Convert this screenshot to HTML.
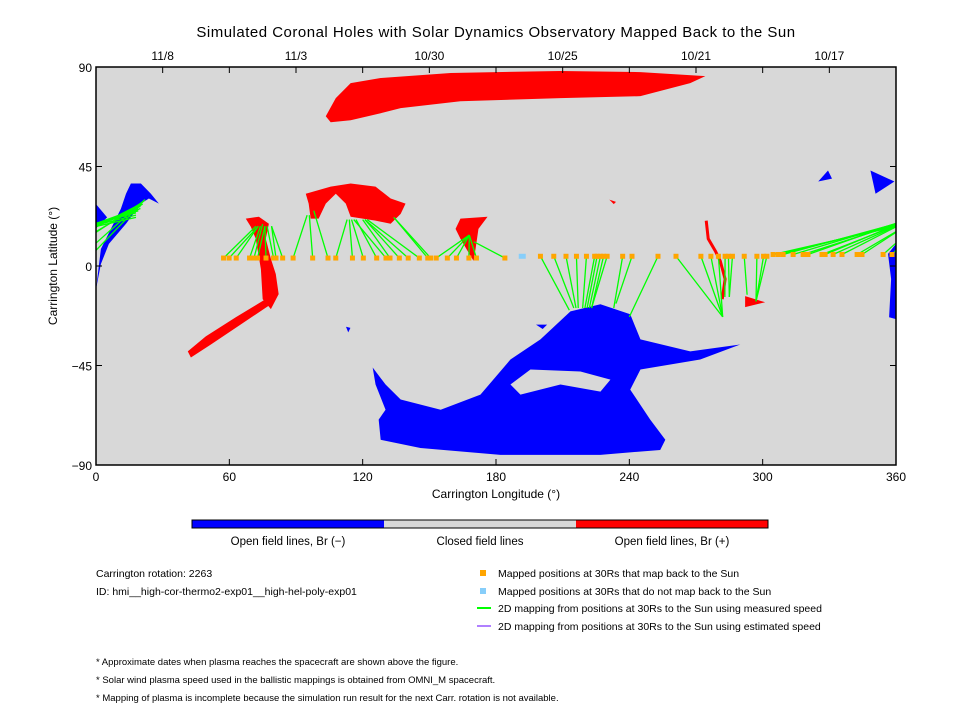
<!DOCTYPE html>
<html><head><meta charset="utf-8"><style>
body{margin:0;background:#fff;font-family:"Liberation Sans",sans-serif;}
svg text{font-family:"Liberation Sans",sans-serif;fill:#000;}
</style></head><body>
<svg id="chart" width="960" height="720" viewBox="0 0 960 720" xmlns="http://www.w3.org/2000/svg">
<rect width="960" height="720" fill="#fff"/>
<text x="496" y="37" text-anchor="middle" font-size="15" letter-spacing="0.5">Simulated Coronal Holes with Solar Dynamics Observatory Mapped Back to the Sun</text>
<defs><clipPath id="pc"><rect x="96" y="67" width="800" height="398"/></clipPath></defs>
<rect x="96" y="67" width="800" height="398" fill="#d8d8d8"/>
<g id="shapes" clip-path="url(#pc)"></g>
<g id="maps" clip-path="url(#pc)"></g>
<rect x="96" y="67" width="800" height="398" fill="none" stroke="#000" stroke-width="1.5"/>
<g id="axes"></g>
<text x="496" y="498" text-anchor="middle" font-size="12">Carrington Longitude (°)</text>
<text transform="translate(57,266) rotate(-90)" text-anchor="middle" font-size="12">Carrington Latitude (°)</text>
<g>
<rect x="192" y="520" width="192" height="8" fill="#0000ff"/>
<rect x="384" y="520" width="192" height="8" fill="#d8d8d8"/>
<rect x="576" y="520" width="192" height="8" fill="#ff0000"/>
<rect x="192" y="520" width="576" height="8" fill="none" stroke="#000" stroke-width="1"/>
</g>
<text x="288" y="545" text-anchor="middle" font-size="11.5">Open field lines, Br (−)</text>
<text x="480" y="545" text-anchor="middle" font-size="11.5">Closed field lines</text>
<text x="672" y="545" text-anchor="middle" font-size="11.5">Open field lines, Br (+)</text>
<text x="96" y="577" font-size="10.5">Carrington rotation: 2263</text>
<text x="96" y="595" font-size="10.5">ID: hmi__high-cor-thermo2-exp01__high-hel-poly-exp01</text>
<g font-size="10.5">
<rect x="480" y="570" width="6" height="6" fill="#ffa500"/><text x="498" y="577">Mapped positions at 30Rs that map back to the Sun</text>
<rect x="480" y="588" width="6" height="6" fill="#87cefa"/><text x="498" y="595">Mapped positions at 30Rs that do not map back to the Sun</text>
<line x1="477" y1="608" x2="491" y2="608" stroke="#00ff00" stroke-width="2"/><text x="498" y="612">2D mapping from positions at 30Rs to the Sun using measured speed</text>
<line x1="477" y1="626" x2="491" y2="626" stroke="#b080ff" stroke-width="2"/><text x="498" y="630">2D mapping from positions at 30Rs to the Sun using estimated speed</text>
</g>
<g font-size="9.5">
<text x="96" y="665">* Approximate dates when plasma reaches the spacecraft are shown above the figure.</text>
<text x="96" y="683">* Solar wind plasma speed used in the ballistic mappings is obtained from OMNI_M spacecraft.</text>
<text x="96" y="701">* Mapping of plasma is incomplete because the simulation run result for the next Carr. rotation is not available.</text>
</g>
</svg>
<script>
const xTicks=[0,60,120,180,240,300,360];
const yTicks=[-90,-45,0,45,90];
const dateLabels=["11/8","11/3","10/30","10/25","10/21","10/17"];
const dateLons=[30,90,150,210,270,330];
const dotLon=[57.4,59.9,63.1,69.1,71.1,72.7,76.5,79.9,81,84,88.7,97.5,104.4,107.9,115.4,120.3,126.3,130.5,132.3,136.5,140.5,145.5,149.3,150.6,153.1,158.1,162.2,167.8,171.2,184,200,206,211.5,216.2,220.7,224.4,225.5,227,228.4,230,237,241.2,252.9,261,272.2,276.7,280.1,283.1,284.6,286.4,291.7,297.4,300.4,301.9,304.7,307,309.2,313.7,318.2,320.4,326.7,328.1,331.7,335.7,342.5,344.7,354.2,358.2];
const dotLat=[3.6,3.6,3.6,3.6,3.6,3.6,3.6,3.6,3.6,3.6,3.6,3.6,3.6,3.6,3.6,3.6,3.6,3.6,3.6,3.6,3.6,3.6,3.6,3.6,3.6,3.6,3.6,3.6,3.6,3.6,4.4,4.4,4.4,4.4,4.4,4.4,4.4,4.4,4.4,4.4,4.4,4.4,4.4,4.4,4.4,4.4,4.4,4.4,4.4,4.4,4.4,4.4,4.4,4.4,5.2,5.2,5.2,5.2,5.2,5.2,5.2,5.2,5.2,5.2,5.2,5.2,5.2,5.2];
const footLon=[72,73,73,74,75,76,76,77,79,79,95,96,98,113,114,115,117,116,120,121,121,122,134,134,168,168,168,168,168,170,213,215,216,217,219,220,221,222,223,223,233,234,240,282,282,282,282,283,285,285,293,297,297,297,378,378,378,379,379,379,380,380,380,380,381,381,382,382];
const footLat=[18,18,18,18,19,18,18,18,18,18,23,23,25,21,21,21,21,21,21,21,21,21,22,22,14,14,14,14,14,11,-20,-19,-19,-19,-19,-19,-19,-19,-19,-19,-19,-17,-23,-23,-23,-23,-23,-14,-14,-14,-13,-16,-16,-16,22,23,24,25,25,26,26,27,27,28,28,29,30,30];
const blueLon=[191.8];
const blueLat=[4.4];
const shapes=[
{c:"#ff0000",p:[[103.4,67.7],[107.9,75.9],[114.6,82.7],[128.1,85],[159.6,87.3],[209,88.2],[245,87.7],[274.2,85.9],[267.4,82.7],[245,76.8],[209,75.9],[164,74.5],[137.1,71.4],[128.1,69.1],[114.6,65.9],[105.6,65]]},
{c:"#0000ff",p:[[124.5,-45.9],[130.3,-53.6],[137.1,-60.4],[155.1,-65],[173,-58.2],[186.5,-42.3],[200,-33.2],[213.5,-20.5],[227,-17.3],[240.4,-21.8],[245,-33.2],[267.4,-38.6],[289.9,-35.5],[271.9,-42.3],[245,-46.8],[240.4,-55.9],[249.4,-69.5],[256.2,-78.6],[253.9,-83.2],[227,-85.4],[182,-85.4],[146,-82.3],[128.1,-78.6],[127.2,-69.5],[130.3,-65],[125.8,-53.6]]},
{c:"#d8d8d8",p:[[186.5,-53.6],[195.5,-46.8],[218,-47.7],[231.5,-51.4],[227,-56.8],[209,-53.6],[191,-58.2]]},
{c:"#0000ff",p:[[0,-10.5],[2.2,7.7],[6.7,16.8],[11.2,25.9],[13.5,32.7],[15.7,37.3],[20.2,37.3],[24.7,32.7],[28.3,28.2],[23.8,30.5],[20.2,28.2],[13.5,19.1],[5.8,10],[2.2,0.9]]},
{c:"#0000ff",p:[[0,28],[5,22],[0,17]]},
{c:"#0000ff",p:[[356.4,5.5],[360,10],[360,-24],[356.9,-23.2],[357.8,-5.9]]},
{c:"#0000ff",p:[[348.5,43.2],[350.8,32.7],[359.3,38.2]]},
{c:"#0000ff",p:[[325,38.2],[329.4,43.2],[331.2,39.5]]},
{c:"#0000ff",p:[[112.5,-27.5],[114.5,-28],[113.5,-30]]},
{c:"#0000ff",p:[[198,-26.5],[203,-26.5],[201,-28.5]]},
{c:"#ff0000",p:[[67.4,21.4],[73.3,22.3],[77.8,19.1],[76.4,12.3],[78.7,3.2],[80.9,-3.6],[82.2,-12.7],[78.7,-19.5],[75,-15],[74.2,-1.4],[71.9,12.3],[69.7,17.7]]},
{c:"#ff0000",p:[[77.8,-14.1],[78.7,-17.3],[65.2,-26.4],[51.7,-35.5],[42.7,-41.4],[41.3,-38.6],[49.4,-31.8],[62.9,-23.2]]},
{c:"#ff0000",p:[[94.4,32.7],[105.6,35.9],[114.6,37.3],[125.8,35.9],[132.6,30.5],[139.3,28.2],[137.1,23.6],[132.6,19.1],[125.8,20.5],[114.6,22.3],[112.4,28.2],[107.9,32.7],[103.4,28.2],[100.2,21.4],[96.6,21.4],[95.7,28.2]]},
{c:"#ff0000",p:[[164,21.4],[176.2,22.3],[172.1,16.8],[170.8,7.7],[169.9,2.3],[166.7,7.7],[164,12.3],[161.8,16.8]]},
{c:"#ff0000",p:[[292.1,-13.6],[301.1,-16.4],[292.1,-18.6]]},
{c:"#ff0000",p:[[231,30],[234,29],[233,28]]}
];
const redStrip=[[274.6,20.5],[275.5,12.3],[278.7,6.8],[280.9,2.3],[283.1,-5.9],[281.8,-15]];
const L=96,R=896,T=67,B=465;
const xs=v=>L+(v/360)*(R-L);
const ys=v=>T+((90-v)/180)*(B-T);
const NS="http://www.w3.org/2000/svg";
function mk(tag,attrs,parent){const e=document.createElementNS(NS,tag);for(const k in attrs)e.setAttribute(k,attrs[k]);parent.appendChild(e);return e;}
const sg=document.getElementById('shapes'),mg=document.getElementById('maps'),ag=document.getElementById('axes');
shapes.forEach(s=>{
 const e=mk('polygon',{points:s.p.map(q=>xs(q[0])+','+ys(q[1])).join(' '),fill:s.c},sg);
 
 
});
const st=mk('polyline',{points:redStrip.map(q=>xs(q[0])+','+ys(q[1])).join(' '),fill:'none',stroke:'#ff0000','stroke-width':3},sg);


dotLon.forEach((lon,i)=>{
 [0,-360].forEach(off=>{
  const ln=mk('line',{x1:xs(lon+off),y1:ys(dotLat[i]),x2:xs(footLon[i]+off),y2:ys(footLat[i]),stroke:'#00ff00','stroke-width':1.3},mg);
  
  
 });
});
dotLon.forEach((lon,i)=>{
 const d=mk('rect',{x:xs(lon)-2.5,y:ys(dotLat[i])-2.5,width:5,height:5,fill:'#ffa500'},mg);
 
 
});
blueLon.forEach((lon,i)=>{
 const d=mk('rect',{x:xs(lon)-3.5,y:ys(blueLat[i])-2.5,width:7,height:5,fill:'#87cefa'},mg);
 
 
});
xTicks.forEach(v=>{
 const x=xs(v);
 mk('line',{x1:x,y1:B,x2:x,y2:B-6,stroke:'#000'},ag);
 const t=mk('text',{x:x,y:B+16,'text-anchor':'middle','font-size':12},ag);t.textContent=v;
 
 
});
for(let v=30;v<360;v+=30){mk('line',{x1:xs(v),y1:T,x2:xs(v),y2:T+6,stroke:'#000'},ag);}
yTicks.forEach(v=>{
 const y=ys(v);
 mk('line',{x1:L,y1:y,x2:L+6,y2:y,stroke:'#000'},ag);
 mk('line',{x1:R,y1:y,x2:R-6,y2:y,stroke:'#000'},ag);
 const t=mk('text',{x:L-4,y:y+5,'text-anchor':'end','font-size':12},ag);t.textContent=(v<0?'−':'')+Math.abs(v);
 
 
});
dateLabels.forEach((s,i)=>{
 const t=mk('text',{x:xs(dateLons[i]),y:T-7,'text-anchor':'middle','font-size':12},ag);t.textContent=s;
 
 
});
</script>
</body></html>
